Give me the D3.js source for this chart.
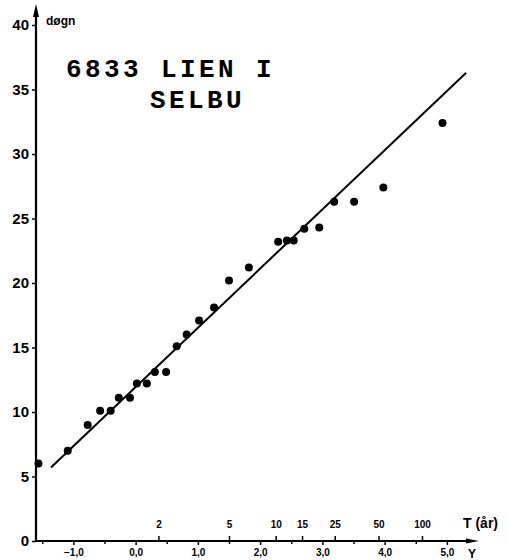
<!DOCTYPE html>
<html>
<head>
<meta charset="utf-8">
<script src="https://cdn.jsdelivr.net/npm/d3@7"></script>
<style>
  body { margin: 0; background: #fff; }
  svg { display: block; }
  .axis text { font-family: "Liberation Sans", Arial, sans-serif; font-weight: bold; fill: #000; }
  .axis line { stroke: #000; stroke-width: 1.5; }
</style>
</head>
<body>
<div id="chart"></div>
<script>
// reduced variate Y (Gumbel) and number of days
var obsY = [-1.56, -1.09, -0.77, -0.57, -0.40, -0.27, -0.09, 0.02, 0.18, 0.31, 0.49,
  0.66, 0.82, 1.02, 1.26, 1.50, 1.82, 2.29, 2.43, 2.54, 2.71, 2.95, 3.19, 3.51, 3.98, 4.93]
var obsDays = [6, 7, 9, 10.1, 10.1, 11.1, 11.1, 12.2, 12.2, 13.1, 13.1,
  15.1, 16, 17.1, 18.1, 20.2, 21.2, 23.2, 23.3, 23.3, 24.2, 24.3, 26.3, 26.3, 27.4, 32.4]

// fitted line endpoints
var fitY = [-1.36, 5.31]
var fitDays = [5.7, 36.3]

var yTicks = [0, 5, 10, 15, 20, 25, 30, 35, 40]
var xTicks = [-1, 0, 1, 2, 3, 4, 5]
var xMinor = [-1.5, -0.5, 0.5, 1.5, 2.5, 3.5, 4.5]
var returnPeriods = [2, 5, 10, 15, 25, 50, 100]

var width = 508
var height = 560

var svg = d3.select('#chart')
  .append('svg')
  .attr('width', width)
  .attr('height', height)

var xPositionScale = d3.scaleLinear().domain([-1.6, 5.5]).range([36, 478])
var yPositionScale = d3.scaleLinear().domain([0, 40]).range([541, 25])

var x0 = xPositionScale(-1.6)
var y0 = yPositionScale(0)

// gumbel reduced variate for a return period
function reduced(T) {
  return -Math.log(-Math.log(1 - 1 / T))
}

// y axis
var yAxis = d3.axisLeft(yPositionScale).tickValues(yTicks).tickSize(4).tickPadding(3)
var yG = svg.append('g')
  .attr('class', 'axis y-axis')
  .attr('transform', 'translate(' + x0 + ',0)')
  .call(yAxis)
yG.select('.domain').remove()
yG.selectAll('text').style('font-size', '15px')

// x axis (Y values)
var xAxis = d3.axisBottom(xPositionScale)
  .tickValues(xTicks)
  .tickSize(4)
  .tickPadding(4)
  .tickFormat(function(d) { return d3.format('.1f')(d).replace('.', ',') })
var xG = svg.append('g')
  .attr('class', 'axis x-axis')
  .attr('transform', 'translate(0,' + y0 + ')')
  .call(xAxis)
xG.select('.domain').remove()
xG.selectAll('text').style('font-size', '10px')

var minorAxis = d3.axisBottom(xPositionScale).tickValues(xMinor).tickSize(3).tickFormat('')
var mG = svg.append('g')
  .attr('class', 'axis')
  .attr('transform', 'translate(0,' + y0 + ')')
  .call(minorAxis)
mG.select('.domain').remove()

// return period axis on top of the same line
var tAxis = d3.axisTop(xPositionScale)
  .tickValues(returnPeriods.map(reduced))
  .tickSize(5)
  .tickPadding(8)
  .tickFormat(function(d, i) { return returnPeriods[i] })
var tG = svg.append('g')
  .attr('class', 'axis t-axis')
  .attr('transform', 'translate(0,' + y0 + ')')
  .call(tAxis)
tG.select('.domain').remove()
tG.selectAll('text').style('font-size', '10px')

// axis lines with arrows
svg.append('line')
  .attr('x1', x0).attr('y1', y0)
  .attr('x2', x0).attr('y2', 14)
  .attr('stroke', '#000').attr('stroke-width', 2.2)
svg.append('path')
  .attr('d', 'M' + (x0 - 3) + ',17 L' + x0 + ',4 L' + (x0 + 3) + ',17 Z')
  .attr('fill', '#000')

svg.append('line')
  .attr('x1', x0).attr('y1', y0)
  .attr('x2', 470).attr('y2', y0)
  .attr('stroke', '#000').attr('stroke-width', 2.2)
svg.append('path')
  .attr('d', 'M466,' + (y0 - 2.5) + ' L479,' + y0 + ' L466,' + (y0 + 2.5) + ' Z')
  .attr('fill', '#000')

// axis titles
svg.append('text')
  .attr('x', 46).attr('y', 25)
  .style('font-family', '"Liberation Sans", Arial, sans-serif')
  .style('font-weight', 'bold')
  .style('font-size', '12px')
  .text('døgn')

svg.append('text')
  .attr('x', 463).attr('y', 528)
  .style('font-family', '"Liberation Sans", Arial, sans-serif')
  .style('font-weight', 'bold')
  .style('font-size', '14px')
  .text('T (år)')

svg.append('text')
  .attr('x', 472).attr('y', 558)
  .style('font-family', '"Liberation Sans", Arial, sans-serif')
  .style('font-weight', 'bold')
  .style('font-size', '12px')
  .attr('text-anchor', 'middle')
  .text('Y')

// station title
var title = svg.append('g')
  .style('font-family', '"Liberation Mono", "Courier New", monospace')
  .style('font-weight', 'bold')
  .style('font-size', '26px')
  .style('letter-spacing', '3.4px')
title.append('text').attr('x', 66).attr('y', 77).text('6833 LIEN I')
title.append('text').attr('x', 150).attr('y', 108).text('SELBU')

// fitted line
var line = d3.line()
  .x(function(d) { return xPositionScale(d[0]) })
  .y(function(d) { return yPositionScale(d[1]) })
svg.append('path')
  .datum(d3.zip(fitY, fitDays))
  .attr('d', line)
  .attr('fill', 'none')
  .attr('stroke', '#000')
  .attr('stroke-width', 2)

// observations
svg.selectAll('.dot')
  .data(d3.zip(obsY, obsDays))
  .enter()
  .append('circle')
  .attr('class', 'dot')
  .attr('cx', function(d) { return xPositionScale(d[0]) })
  .attr('cy', function(d) { return yPositionScale(d[1]) })
  .attr('r', 4)
  .attr('fill', '#000')
</script>
</body>
</html>
